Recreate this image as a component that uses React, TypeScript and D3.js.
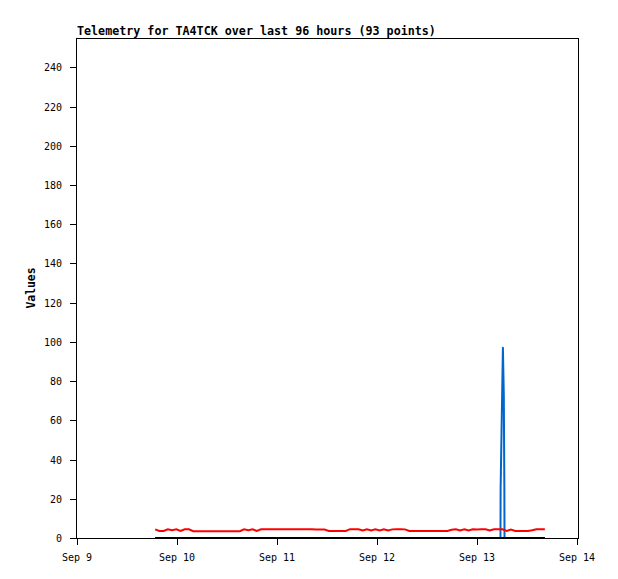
import React from "react";
import * as d3 from "d3";

const title = "Telemetry for TA4TCK over last 96 hours (93 points)";
const yLabel = "Values";
const xTickLabels = ["Sep 9", "Sep 10", "Sep 11", "Sep 12", "Sep 13", "Sep 14"];
const yTicks = [0, 20, 40, 60, 80, 100, 120, 140, 160, 180, 200, 220, 240];
const xDomain = ["2023-09-09T00:00", "2023-09-14T00:00"];
const yDomain = [0, 255];

// 93 samples, roughly every 61 minutes starting Sep 9 18:45
const seriesStart = "2023-09-09T18:45";
const sampleMinutes = 61;
const redValues = [
  4.4, 3.6, 3.6, 4.4, 4.0, 4.4, 3.6, 4.4, 4.4, 3.5,
  3.5, 3.5, 3.5, 3.5, 3.5, 3.5, 3.5, 3.5, 3.5, 3.5,
  3.5, 4.4, 4.0, 4.4, 3.6, 4.4, 4.4, 4.4, 4.4, 4.4,
  4.4, 4.4, 4.4, 4.4, 4.4, 4.4, 4.4, 4.4, 4.3, 4.3,
  4.3, 3.6, 3.6, 3.6, 3.6, 3.6, 4.5, 4.5, 4.5, 3.8,
  4.4, 3.8, 4.4, 3.8, 4.4, 3.8, 4.4, 4.5, 4.5, 4.4,
  3.6, 3.6, 3.6, 3.6, 3.6, 3.6, 3.6, 3.6, 3.6, 3.6,
  4.2, 4.5, 3.9, 4.4, 3.8, 4.4, 4.3, 4.4, 4.4, 3.8,
  4.4, 4.4, 4.4, 3.6, 4.3, 3.6, 3.6, 3.6, 3.6, 4.0,
  4.5, 4.5, 4.5,
];
const blackValues = redValues.map(() => 0);

const blueTimes = [
  "2023-09-09T18:45",
  "2023-09-13T05:38",
  "2023-09-13T05:40",
  "2023-09-13T06:02",
  "2023-09-13T06:13",
  "2023-09-13T06:26",
  "2023-09-13T06:34",
  "2023-09-13T06:36",
  "2023-09-13T16:15",
];
const blueValues = [0, 0, 25, 73, 97, 73, 25, 0, 0];

const W = 618;
const H = 579;
const M = { left: 77, right: 40, top: 38, bottom: 41 };
const FONT = "'DejaVu Sans Mono', 'Liberation Mono', monospace";

export default function App() {
  const x = d3
    .scaleTime()
    .domain(xDomain.map((s) => new Date(s)))
    .range([M.left, W - M.right - 1]);
  const y = d3
    .scaleLinear()
    .domain(yDomain)
    .range([H - M.bottom, M.top]);

  const t0 = new Date(seriesStart).getTime();
  const times = redValues.map((_, i) => new Date(t0 + i * sampleMinutes * 60000));
  const line = d3
    .line<[Date, number]>()
    .x((d) => x(d[0]))
    .y((d) => y(d[1]));

  const redPts: [Date, number][] = redValues.map((v, i) => [times[i], v]);
  const blackPts: [Date, number][] = blackValues.map((v, i) => [times[i], v]);
  const bluePts: [Date, number][] = blueValues.map((v, i) => [new Date(blueTimes[i]), v]);

  const xTicks = xTickLabels.map((_, i) => d3.timeDay.offset(new Date(xDomain[0]), i));
  const x0 = M.left;
  const x1 = W - M.right;
  const yb = H - M.bottom;
  const yt = M.top;

  return (
    <div style={{ position: "absolute", left: 0, top: 0, width: W, height: H, background: "#fff" }}>
      <svg width={W} height={H} style={{ display: "block" }}>
        <rect x={0} y={0} width={W} height={H} fill="#fff" />
        <text x={x0} y={35} fontFamily={FONT} fontWeight="bold" fontSize={11.7} fill="#000">
          {title}
        </text>
        {/* frame */}
        <line x1={x0 - 0.5} y1={yt + 0.5} x2={x1 + 0.5} y2={yt + 0.5} stroke="#000" />
        <line x1={x1 + 0.5} y1={yt} x2={x1 + 0.5} y2={yb + 1} stroke="#000" />
        <line x1={x0 - 0.5} y1={yt} x2={x0 - 0.5} y2={yb + 1} stroke="#000" />
        <line x1={x0 - 1} y1={yb + 0.5} x2={x1 + 1} y2={yb + 0.5} stroke="#000" />
        {/* y ticks */}
        {yTicks.map((v) => (
          <g key={v}>
            <line x1={x0 - 7} x2={x0} y1={Math.round(y(v)) + 0.5} y2={Math.round(y(v)) + 0.5} stroke="#000" />
            <text
              x={62}
              y={y(v) + 4}
              textAnchor="end"
              fontFamily={FONT}
              fontSize={10}
              fill="#000"
            >
              {v}
            </text>
          </g>
        ))}
        {/* x ticks */}
        {xTicks.map((d, i) => (
          <g key={i}>
            <line x1={Math.round(x(d)) + 0.5} x2={Math.round(x(d)) + 0.5} y1={yb} y2={yb + 7} stroke="#000" />
            <text
              x={x(d)}
              y={561}
              textAnchor="middle"
              fontFamily={FONT}
              fontSize={10}
              fill="#000"
            >
              {xTickLabels[i]}
            </text>
          </g>
        ))}
        <text
          transform={`translate(35, ${(yt + yb) / 2}) rotate(-90)`}
          textAnchor="middle"
          fontFamily={FONT}
          fontWeight="bold"
          fontSize={11.4}
          fill="#000"
        >
          {yLabel}
        </text>
        {/* data */}
        <path d={line(bluePts) || ""} fill="none" stroke="#0066cc" strokeWidth={2} strokeLinejoin="round" />
        <path d={line(redPts) || ""} fill="none" stroke="#ff0000" strokeWidth={2} />
        <path d={line(blackPts) || ""} fill="none" stroke="#000" strokeWidth={2} />
      </svg>
    </div>
  );
}
